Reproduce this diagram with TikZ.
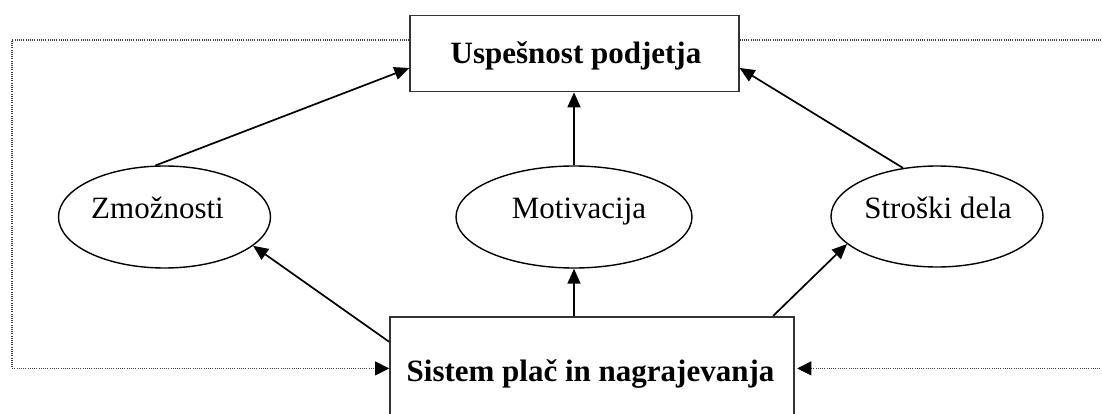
\documentclass[tikz,border=0pt]{standalone}
\usepackage{fontspec}
\setmainfont{Liberation Serif}
\usetikzlibrary{arrows.meta,shapes.geometric}

\tikzset{
  boxnode/.style={draw=black!80, line width=1.7pt, inner sep=0pt, fill=none},
  ovalnode/.style={ellipse, draw=black, line width=1.4pt, inner sep=0pt},
  txt/.style={anchor=base, inner sep=0pt, font=\fontsize{31}{36}\selectfont},
  btxt/.style={txt, font=\fontsize{31}{36}\selectfont\bfseries},
  link/.style={line width=1.7pt, -{Triangle[length=15pt,width=13pt]}},
  loop/.style={draw=black!75, line width=1.2pt, dash pattern=on 1pt off 1.2pt},
  looptip/.style={loop, -{Triangle[length=14pt,width=14pt,color=black,fill=black,line width=0.6pt]}}
}

\begin{document}
\begin{tikzpicture}[x=1pt, y=-1pt]
  \useasboundingbox (0,0) rectangle (1102,414);
  \clip (0,0) rectangle (1102,414);

  % boxes
  \node[boxnode, minimum width=328.5pt, minimum height=76pt] (top) at (574.5,53.5) {};
  \node[boxnode, minimum width=404pt, minimum height=103.5pt] (bot) at (592,368.4) {};

  % ellipses
  \node[ovalnode, minimum width=212pt, minimum height=102pt] (zm) at (164.5,217) {};
  \node[ovalnode, minimum width=236pt, minimum height=102pt] (mo) at (574,217) {};
  \node[ovalnode, minimum width=212pt, minimum height=101pt] (st) at (937,216.5) {};

  % labels
  \node[btxt] (topT) at (576,63.3) {Uspešnost podjetja};
  \node[btxt] (botT) at (590.5,381.5) {Sistem plač in nagrajevanja};
  \node[txt] (zmT) at (157.5,218.3) {Zmožnosti};
  \node[txt] (moT) at (579,218.3) {Motivacija};
  \node[txt] (stT) at (938,218.3) {Stroški dela};

  % influences towards company success
  \draw[link] (zm.100) -- ([yshift=-14.5pt]top.west);
  \draw[link] (mo.north) -- (mo.north |- top.south);
  \draw[link] (st.125) -- ([yshift=-14.5pt]top.east);

  % influences of the pay and reward system
  \draw[link] ([yshift=-26pt]bot.north west) -- (zm.-18);
  \draw[link] (mo.south |- bot.north) -- (mo.south);
  \draw[link] ([xshift=-21.6pt]bot.north east) -- (st.197);

  % feedback loops
  \coordinate (l1) at (12,40);
  \coordinate (l2) at (12,368.4);
  \coordinate (r1) at (1110,40);
  \coordinate (r2) at (1110,368.4);
  \draw[looptip] ([yshift=13.5pt]top.west) -- (l1) -- (l2) -- (bot.west);
  \draw[looptip] ([yshift=13.5pt]top.east) -- (r1) -- (r2) -- ([xshift=2.4pt]bot.east);
\end{tikzpicture}
\end{document}
